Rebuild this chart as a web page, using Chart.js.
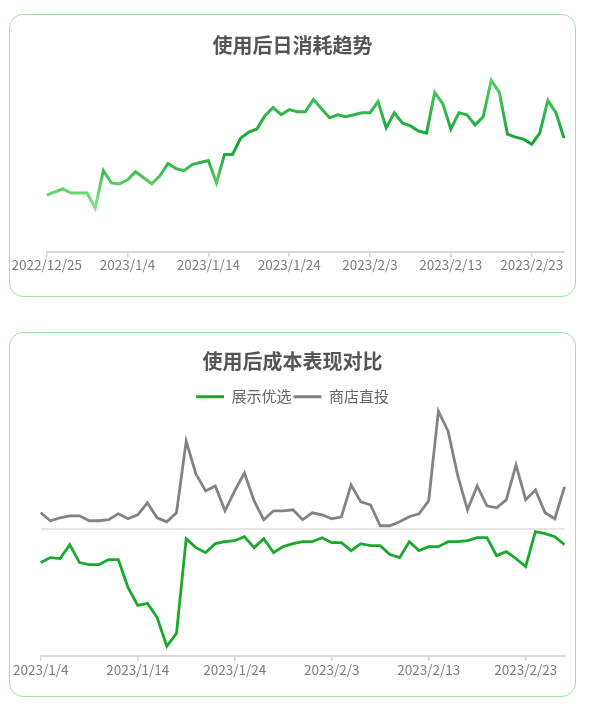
<!DOCTYPE html>
<html lang="zh">
<head>
<meta charset="UTF-8">
<title>使用后效果</title>
<style>
  body { margin: 0; background: #fff; width: 589px; height: 709px; position: relative; overflow: hidden; }
  .card { position: absolute; box-sizing: border-box; border: 1.5px solid #a4e2a4; border-radius: 14px; }
  .box { position: absolute; }
</style>
</head>
<body>
<div class="card" style="left:9px;top:14px;width:567px;height:283px"></div>
<div class="box" style="left:9px;top:14px;width:567px;height:283px"><canvas id="dailyChart" width="567" height="283"></canvas></div>

<div class="card" style="left:9px;top:332px;width:567px;height:365px"></div>
<div class="box" style="left:9px;top:332px;width:567px;height:365px"><canvas id="costChart" width="567" height="365"></canvas></div>

<script src="https://cdn.jsdelivr.net/npm/chart.js"></script>
<script>
// ---- data ----
const dailyStart = '2022-12-25'
const dailyDays = 65
const dailyTicks = ['2022/12/25', '2023/1/4', '2023/1/14', '2023/1/24', '2023/2/3', '2023/2/13', '2023/2/23']
const dailySpend = [56, 59, 62, 58, 58, 58, 43, 80, 68, 67,
  71, 79, 73, 67, 75, 87, 82, 80, 86, 88,
  90, 68, 96, 96, 112, 118, 121, 134, 142, 135,
  140, 138, 138, 150, 141, 132, 135, 133, 135, 137,
  137, 148, 122, 137, 127, 124, 119, 117, 157, 146,
  121, 137, 135, 125, 133, 169, 157, 116, 113, 111,
  106, 117, 149, 137, 112]

const costStart = '2023-01-04'
const costDays = 55
const costTicks = ['2023/1/4', '2023/1/14', '2023/1/24', '2023/2/3', '2023/2/13', '2023/2/23']
const preferred = [-34, -29, -30, -16, -34, -36, -36, -31, -31, -59,
  -77, -75, -89, -118, -105, -10, -19, -24, -15, -13,
  -12, -8, -19, -10, -24, -18, -15, -13, -13, -9,
  -14, -14, -22, -15, -17, -17, -26, -29, -13, -22,
  -18, -18, -13, -13, -12, -9, -9, -27, -23, -30,
  -38, -3, -5, -8, -16]
const direct = [16, 8, 11, 13, 13, 8, 8, 9, 15, 10,
  14, 26, 11, 7, 16, 88, 55, 38, 43, 18,
  38, 56, 28, 9, 18, 18, 19, 9, 16, 14,
  10, 12, 44, 27, 24, 3, 3, 7, 12, 15,
  28, 118, 98, 53, 19, 43, 23, 21, 29, 64,
  29, 39, 16, 10, 42]

// day labels like 2023/1/4
function dayLabels(start, n) {
  const out = []
  const d = new Date(start + 'T00:00:00')
  for (let i = 0; i < n; i++) {
    out.push(d.getFullYear() + '/' + (d.getMonth() + 1) + '/' + d.getDate())
    d.setDate(d.getDate() + 1)
  }
  return out
}
const dailyLabels = dayLabels(dailyStart, dailyDays)
const costLabels = dayLabels(costStart, costDays)

Chart.defaults.font.family = '"Noto Sans CJK SC", "Noto Sans", sans-serif'
Chart.defaults.animation = false

function xAxis(labels, ticks, pad) {
  return {
    offset: false,
    grid: { display: true, drawOnChartArea: false, drawTicks: true, tickLength: 5, color: '#d6d6d6', lineWidth: 1.5 },
    border: { display: true, color: '#d9d9d9', width: 2 },
    ticks: {
      autoSkip: false, maxRotation: 0, padding: pad,
      color: '#7d7d7d', font: { size: 13.5 },
      callback: (v, i) => ticks.includes(labels[i]) ? labels[i] : null
    }
  }
}

const titleFont = { size: 20, weight: 'bold' }

new Chart(document.querySelector('#dailyChart'), {
  type: 'line',
  data: {
    labels: dailyLabels,
    datasets: [{
      label: '日消耗',
      data: dailySpend,
      borderWidth: 3,
      pointRadius: 0,
      tension: 0,
      borderColor: (c) => {
        const area = c.chart.chartArea
        if (!area) return '#2fb84a'
        const g = c.chart.ctx.createLinearGradient(0, area.top, 0, area.bottom)
        g.addColorStop(0, '#5cd170')
        g.addColorStop(0.42, '#10a42f')
        g.addColorStop(0.78, '#8ce98b')
        g.addColorStop(1, '#8ce98b')
        return g
      }
    }]
  },
  options: {
    responsive: false,
    layout: { padding: { left: 12, right: 12, top: 0, bottom: 23.8 } },
    plugins: {
      legend: { display: false },
      tooltip: { enabled: false },
      title: { display: true, text: '使用后日消耗趋势', color: '#555', font: titleFont, padding: { top: 19, bottom: 12 } }
    },
    scales: {
      x: xAxis(dailyLabels, dailyTicks, 0),
      y: {
        min: 0, max: 180,
        ticks: { display: false },
        grid: { display: false },
        border: { display: false },
        afterFit: (s) => { s.width = 25.7 }
      }
    }
  }
})

new Chart(document.querySelector('#costChart'), {
  type: 'line',
  data: {
    labels: costLabels,
    datasets: [{
      label: '展示优选',
      data: preferred,
      borderColor: '#19a92b',
      backgroundColor: '#19a92b',
      borderWidth: 2.8,
      pointRadius: 0,
      tension: 0,
      clip: false
    }, {
      label: '商店直投',
      data: direct,
      borderColor: '#838383',
      backgroundColor: '#838383',
      borderWidth: 2.8,
      pointRadius: 0,
      tension: 0,
      clip: false
    }]
  },
  options: {
    responsive: false,
    layout: { padding: { left: 11.5, right: 11.5, top: 0, bottom: 17.6 } },
    plugins: {
      tooltip: { enabled: false },
      title: { display: true, text: '使用后成本表现对比', color: '#555', font: titleFont, padding: { top: 17.7, bottom: 13.5 } },
      legend: {
        labels: {
          boxWidth: 28, boxHeight: 3, padding: 2,
          color: '#666', font: { size: 15 },
          generateLabels: (chart) => Chart.defaults.plugins.legend.labels.generateLabels(chart).map(l => Object.assign(l, { lineWidth: 0 }))
        }
      }
    },
    scales: {
      x: xAxis(costLabels, costTicks, 1),
      y: {
        min: -128, max: 115,
        ticks: { display: false },
        grid: {
          drawTicks: false, lineWidth: 2,
          color: (c) => c.tick && c.tick.value === 0 ? '#e6e6e6' : 'rgba(0,0,0,0)'
        },
        border: { display: false },
        afterFit: (s) => { s.width = 20.2 }
      }
    }
  }
})
</script>
</body>
</html>
